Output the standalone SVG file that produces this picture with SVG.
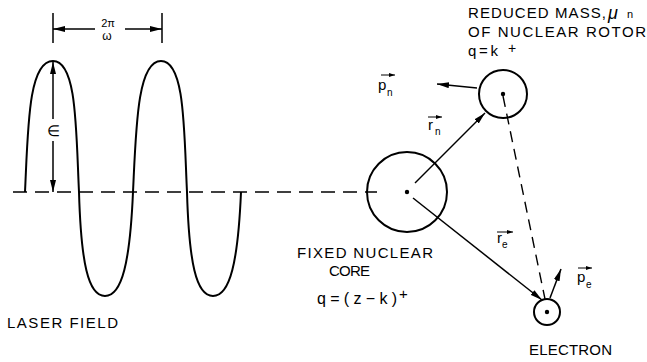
<svg xmlns="http://www.w3.org/2000/svg" width="647" height="362" viewBox="0 0 647 362">
<style>
text{font-family:"Liberation Sans",Arial,sans-serif;fill:#000;}
.lbl{font-size:15px;}
.sub{font-size:10px;}
.thick{fill:none;stroke:#000;stroke-width:2;}
.thin{fill:none;stroke:#000;stroke-width:1.5;}
.dash{fill:none;stroke:#000;stroke-width:1.4;stroke-dasharray:14 8;}
.dash2{fill:none;stroke:#000;stroke-width:1.4;stroke-dasharray:11 7;}
.vec{fill:none;stroke:#000;stroke-width:1;}
</style>
<defs>
<marker id="ah" viewBox="0 0 12 6" refX="12" refY="3" markerWidth="12" markerHeight="6" orient="auto" markerUnits="userSpaceOnUse"><path d="M0,0 L12,3 L0,6 z" fill="#000"/></marker>
<marker id="sv" viewBox="0 0 6 4" refX="6" refY="2" markerWidth="6" markerHeight="4" orient="auto" markerUnits="userSpaceOnUse"><path d="M0,0 L6,2 L0,4 z" fill="#000"/></marker>
</defs>
<rect width="647" height="362" fill="#fff"/>

<g id="laser">
<path class="dash" d="M13,192 H377"/>
<path class="thick" d="M25,192 C28,130 28,61 53,61 C77,61 76,130 79,192 C81,262 88,296 105,296 C122,296 130,262 133,192 C136,130 137,61 161,61 C185,61 184,130 187,192 C189,262 196,296 213,296 C230,296 238,262 241,192"/>
<path class="thin" d="M53,13 V43 M162,13 V43"/>
<path class="thin" marker-end="url(#ah)" d="M95,29 H53"/>
<path class="thin" marker-end="url(#ah)" d="M125,29 H162"/>
<text x="108" y="27" font-size="11" text-anchor="middle">2π</text>
<text x="107" y="40" font-size="12" text-anchor="middle">ω</text>
<path class="thin" marker-end="url(#ah)" d="M53,119 V62"/>
<path class="thin" marker-end="url(#ah)" d="M53,141 V192"/>
<text x="53.5" y="136" class="lbl" text-anchor="middle">∈</text>
<text x="7" y="328" class="lbl" textLength="111" lengthAdjust="spacing">LASER FIELD</text>
</g>

<g id="core">
<circle cx="407" cy="192" r="40" class="thick"/>
<circle cx="407" cy="192" r="2.2" fill="#000"/>
<text x="297" y="258" class="lbl" textLength="136" lengthAdjust="spacing">FIXED NUCLEAR</text>
<text x="329" y="276" class="lbl" textLength="41" lengthAdjust="spacing">CORE</text>
<text x="317" y="304" font-size="16" textLength="80" lengthAdjust="spacing">q=(z−k)</text>
<text x="399" y="299" font-size="15">+</text>
</g>

<g id="rotor">
<circle cx="503" cy="94" r="24" class="thick"/>
<circle cx="503" cy="94" r="2.2" fill="#000"/>
<text x="468" y="18" class="lbl" textLength="138" lengthAdjust="spacing">REDUCED MASS,</text>
<text x="608" y="19" font-size="18" font-style="italic">μ</text>
<text x="627" y="18" font-size="11">n</text>
<text x="468" y="37" class="lbl" textLength="178" lengthAdjust="spacing">OF NUCLEAR ROTOR</text>
<text x="468" y="56" class="lbl" textLength="30" lengthAdjust="spacing">q=k</text>
<text x="508" y="53" font-size="14">+</text>
</g>

<g id="electron">
<circle cx="547" cy="312" r="13" class="thick"/>
<circle cx="547" cy="312" r="2.2" fill="#000"/>
<text x="529" y="355" class="lbl" textLength="83" lengthAdjust="spacing">ELECTRON</text>
</g>

<g id="connectors">
<path class="dash2" d="M503,96 L545,299"/>
<path class="thin" marker-end="url(#ah)" d="M415,183 L485,113"/>
<path class="thin" marker-end="url(#ah)" d="M413,198 L542,300"/>
<path class="thin" marker-end="url(#ah)" d="M477,88 L437,84"/>
<path class="thin" marker-end="url(#ah)" d="M550,298 L561,269"/>
</g>

<g id="vector-labels">
<path class="vec" marker-end="url(#sv)" d="M381,75 H395"/>
<text x="378" y="90" class="lbl">p</text>
<text x="387" y="96" class="sub">n</text>
<path class="vec" marker-end="url(#sv)" d="M428,117 H442"/>
<text x="428" y="130" class="lbl">r</text>
<text x="435" y="135" class="sub">n</text>
<path class="vec" marker-end="url(#sv)" d="M497,232 H513"/>
<text x="497" y="243" class="lbl">r</text>
<text x="502" y="248" class="sub">e</text>
<path class="vec" marker-end="url(#sv)" d="M578,268 H592"/>
<text x="577" y="282" class="lbl">p</text>
<text x="586" y="288" class="sub">e</text>
</g>
</svg>
